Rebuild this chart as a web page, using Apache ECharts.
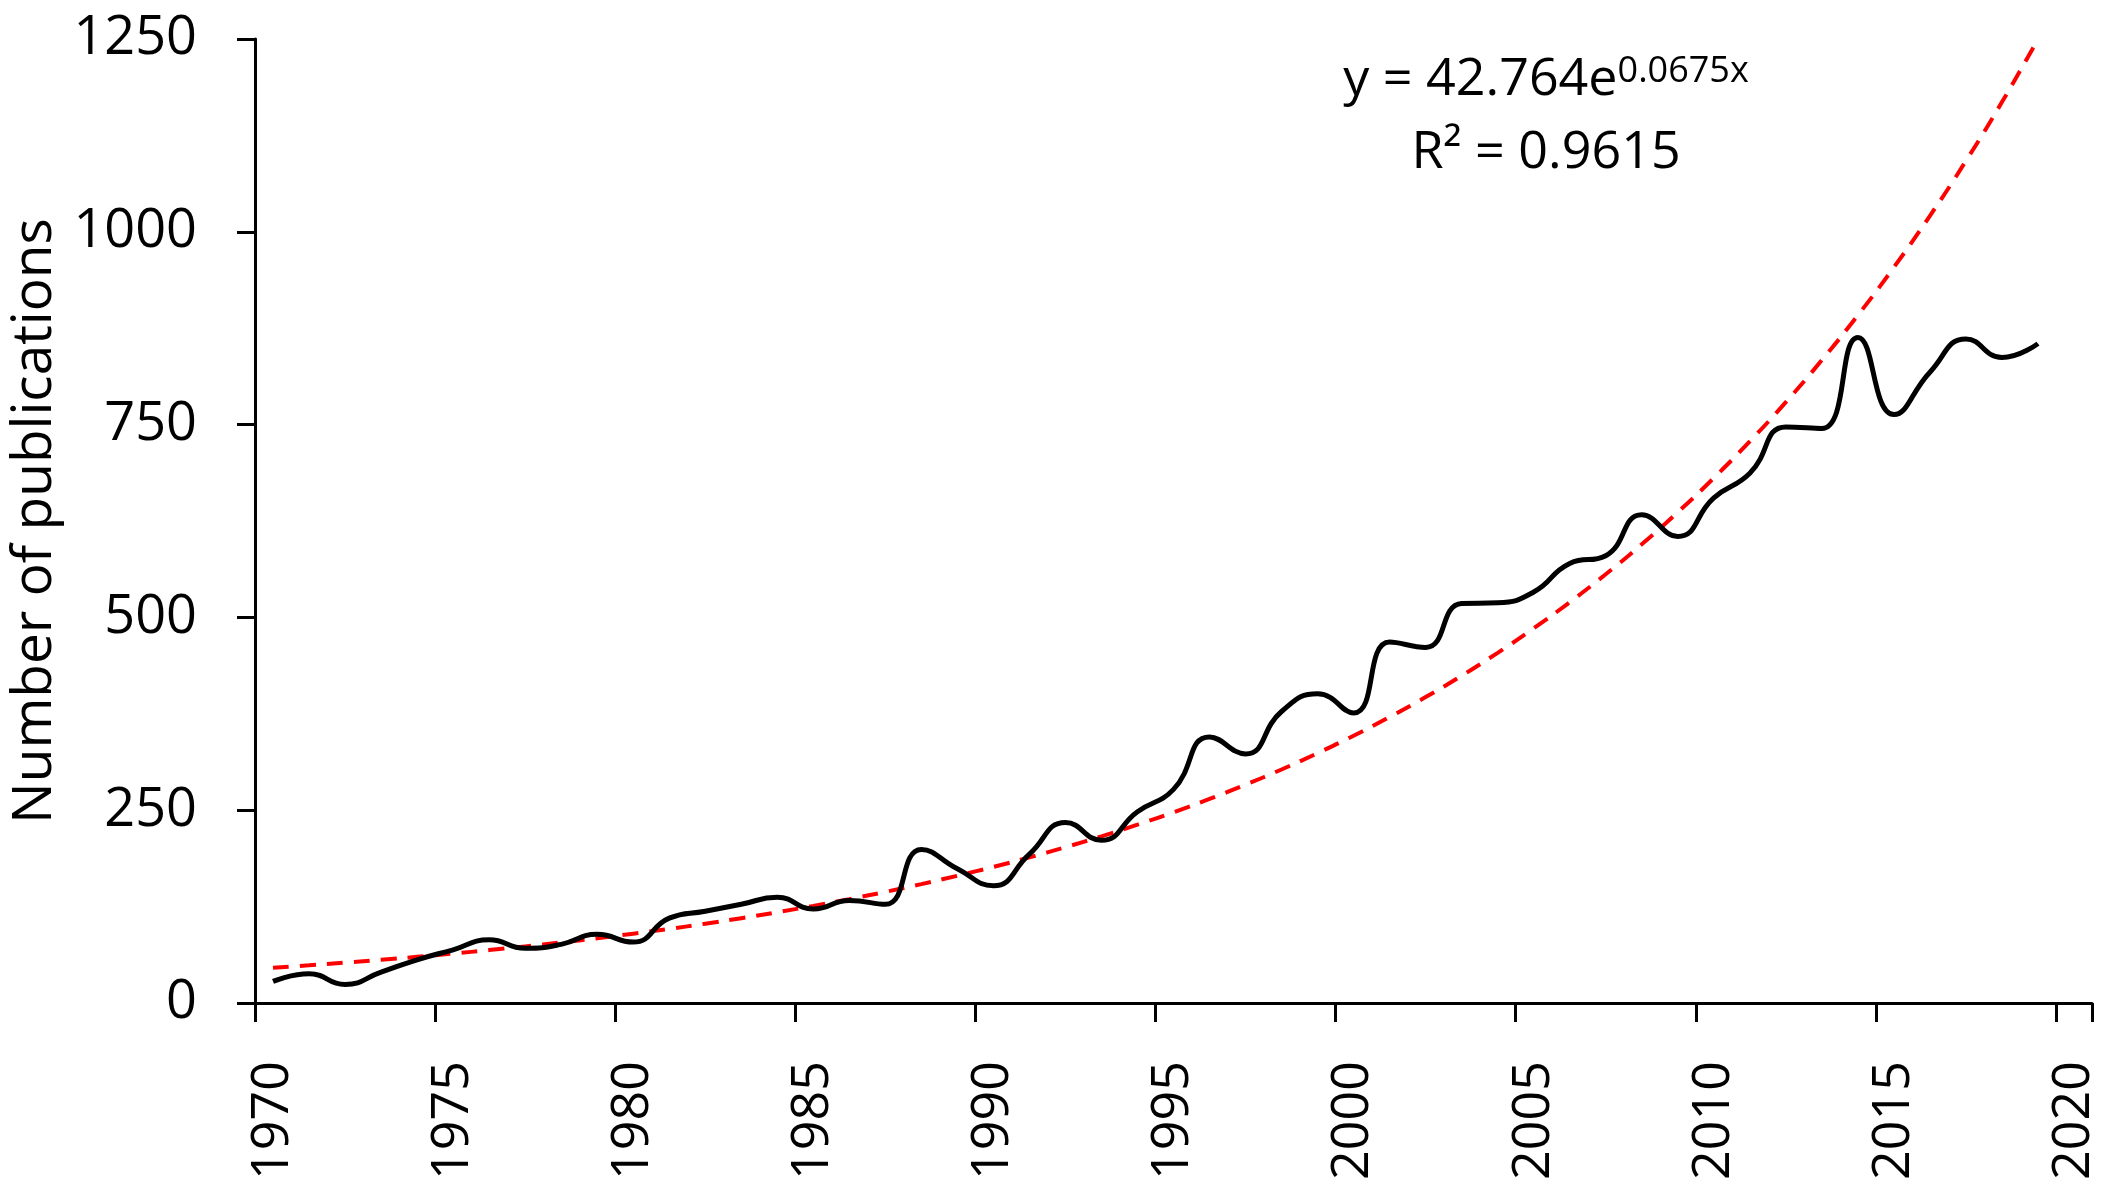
<!DOCTYPE html>
<html>
<head>
<meta charset="utf-8">
<script src="https://cdn.jsdelivr.net/npm/echarts@6/dist/echarts.min.js"></script>
<style>
html,body{margin:0;padding:0;background:#fff;}
#chart{width:2116px;height:1198px;}
</style>
</head>
<body>
<div id="chart"></div>
<script>
// Categories (years) shown on the x axis
const years = [];
for (let y = 1970; y <= 2020; y++) years.push(String(y));

// Number of publications per year, 1970–2019
const publications = [
  28, 38, 24, 40, 56, 69, 82, 71, 76, 89,
  79, 110, 119, 128, 137, 122, 133, 128, 199, 174,
  152, 193, 234, 211, 248, 277, 345, 323, 378, 401,
  376, 468, 461, 518, 519, 533, 570, 580, 633, 605,
  655, 687, 747, 745, 863, 763, 818, 861, 837, 855
];

// Exponential trend line values, 1970–2019
const trend = [
  45.7, 48.9, 52.4, 56.0, 59.9, 64.1, 68.6, 73.4, 78.5, 84.0,
  89.9, 96.1, 102.8, 110.0, 117.7, 125.9, 134.7, 144.1, 154.2, 165.0,
  176.5, 188.8, 202.0, 216.1, 231.2, 247.3, 264.6, 283.1, 302.8, 324.0,
  346.6, 370.8, 396.7, 424.4, 454.1, 485.8, 519.7, 556.0, 594.8, 636.3,
  680.8, 728.3, 779.1, 833.6, 891.8, 954.0, 1020.7, 1091.9, 1168.2, 1249.8
];

// Y-axis tick values
const yTicks = [0, 250, 500, 750, 1000, 1250];

const yAxisName = 'Number of publications';
const equationMain = 'y = 42.764e';
const equationExp = '0.0675x';
const rSquared = 'R² = 0.9615';

const FONT = '"Open Sans", "Noto Sans", sans-serif';

const chart = echarts.init(document.getElementById('chart'), null, {renderer: 'canvas'});
chart.setOption({
  animation: false,
  backgroundColor: '#ffffff',
  textStyle: {fontFamily: FONT, color: '#000'},
  grid: {left: 255, right: 24, top: 39, bottom: 195, containLabel: false, outerBoundsMode: 'none'},
  xAxis: {
    type: 'category',
    data: years,
    boundaryGap: true,
    axisLine: {show: true, lineStyle: {color: '#000', width: 3}},
    axisTick: {show: true, alignWithLabel: false, interval: 4, length: 19, lineStyle: {color: '#000', width: 3}},
    axisLabel: {
      interval: 4, rotate: 90, margin: 58,
      fontFamily: FONT, fontSize: 52, color: '#000'
    },
    splitLine: {show: false}
  },
  yAxis: {
    type: 'value',
    min: yTicks[0], max: yTicks[yTicks.length - 1], interval: 250,
    name: yAxisName,
    nameLocation: 'middle',
    nameGap: 186,
    nameTextStyle: {fontFamily: FONT, fontSize: 55, color: '#000'},
    axisLine: {show: true, lineStyle: {color: '#000', width: 3}},
    axisTick: {show: true, length: 18, lineStyle: {color: '#000', width: 3}},
    axisLabel: {
      margin: 58, fontFamily: FONT, fontSize: 54, color: '#000',
      formatter: function (v) { return String(v); }
    },
    splitLine: {show: false}
  },
  series: [
    {
      name: 'Trend',
      type: 'line',
      data: trend,
      smooth: true,
      showSymbol: false,
      lineStyle: {color: '#ff0000', width: 4, type: [16, 11]},
      z: 2
    },
    {
      name: 'Publications',
      type: 'line',
      data: publications,
      smooth: 0.5,
      showSymbol: false,
      lineStyle: {color: '#000', width: 5},
      z: 3
    }
  ],
  graphic: [
    {
      type: 'text',
      x: 1546, y: 80,
      style: {
        text: '{m|' + equationMain + '}{s|' + equationExp + '}',
        align: 'center', verticalAlign: 'middle',
        rich: {
          m: {fontFamily: FONT, fontSize: 52, fill: '#000', verticalAlign: 'bottom'},
          s: {fontFamily: FONT, fontSize: 36, fill: '#000', verticalAlign: 'top'}
        }
      }
    },
    {
      type: 'text',
      x: 1546, y: 153,
      style: {
        text: rSquared,
        align: 'center', verticalAlign: 'middle',
        fontFamily: FONT, fontSize: 52, fill: '#000'
      }
    }
  ]
});
</script>
</body>
</html>
